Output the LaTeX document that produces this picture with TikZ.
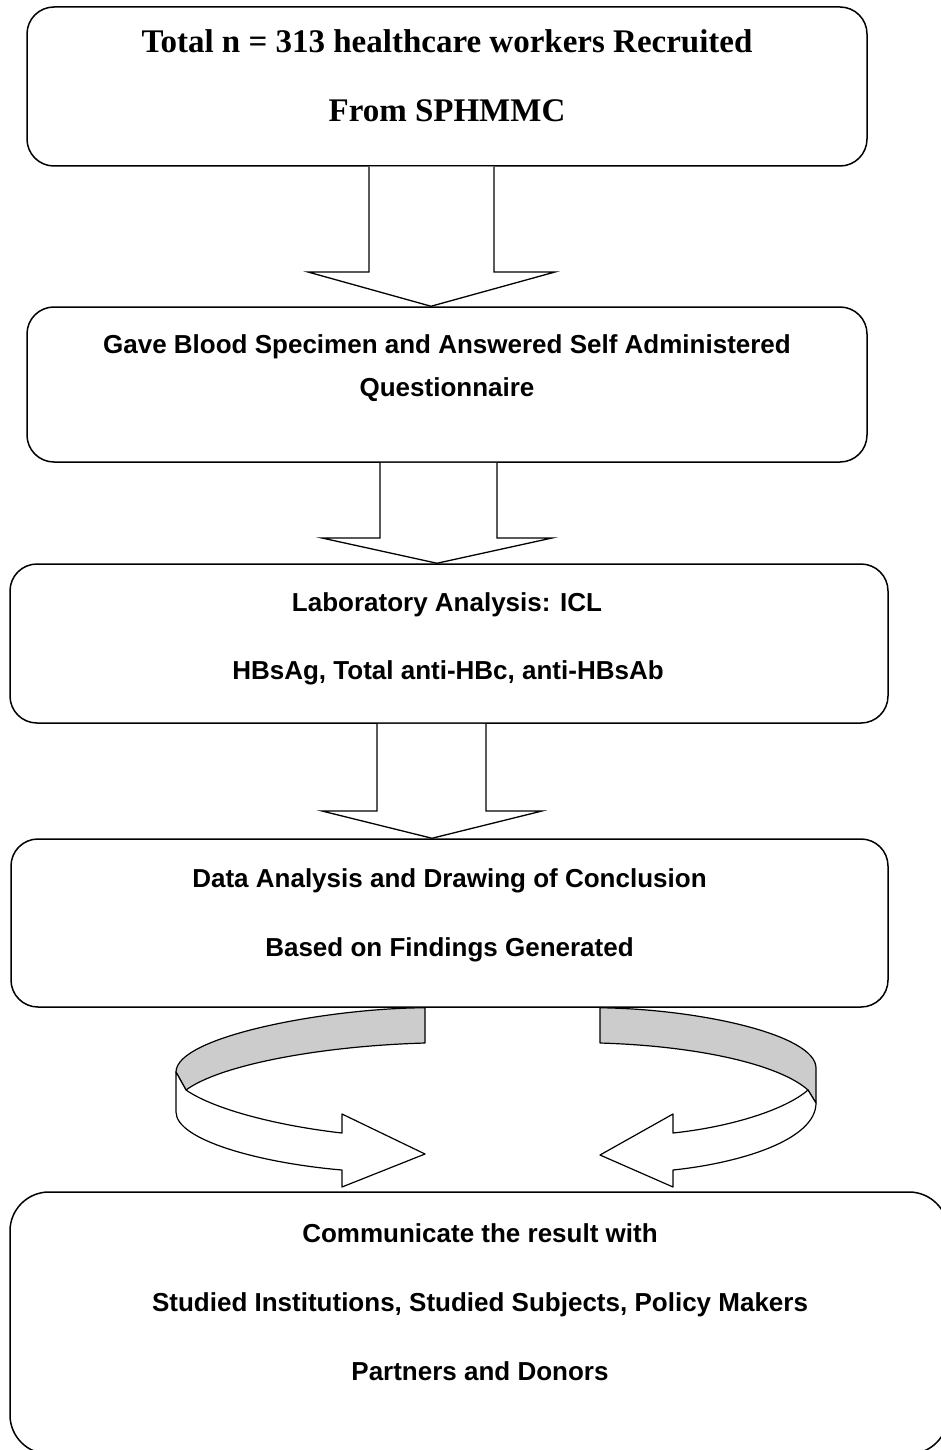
\documentclass[tikz,border=0pt]{standalone}
\usepackage{fontspec}
\setmainfont{Liberation Serif}
\setsansfont{Liberation Sans}
\usetikzlibrary{calc}
\tikzset{
  box/.style={draw, line width=1.5pt, rounded corners=27pt, inner sep=0pt},
  blockarrow/.style={draw, line width=1.3pt, fill=white},
  ribbonback/.style={draw, line width=1.2pt, fill=black!20, line join=round},
  ribbonfront/.style={draw, line width=1.2pt, fill=white, line join=round},
  serifline/.style={anchor=base, font=\rmfamily\bfseries\fontsize{33}{40}\selectfont},
  sansline/.style={anchor=base, font=\sffamily\bfseries\fontsize{26}{32}\selectfont}
}
\begin{document}
\begin{tikzpicture}[x=1pt, y=-1pt]
\useasboundingbox (0,0) rectangle (941,1450);
% the five steps
\node[box, minimum width=840pt, minimum height=159pt] (recruit) at (447,86.5) {};
\node[box, minimum width=840pt, minimum height=155pt] (specimen) at (447,384.5) {};
\node[box, minimum width=878pt, minimum height=159pt] (lab) at (449,643.5) {};
\node[box, minimum width=877pt, minimum height=168pt] (analysis) at (449.5,923) {};
\node[box, rounded corners=39pt, minimum width=938pt, minimum height=262pt] (communicate) at (479,1323) {};
% texts
\node[serifline] (recruitA) at (447,53) {Total n = 313 healthcare workers Recruited};
\node[serifline] (recruitB) at (447,122) {From SPHMMC};
\node[sansline] (specimenA) at (447,353) {Gave Blood Specimen and Answered Self Administered};
\node[sansline] (specimenB) at (447,396) {Questionnaire};
\node[sansline] (labA) at (447,611) {Laboratory Analysis: ICL};
\node[sansline] (labB) at (448,679) {HBsAg, Total anti-HBc, anti-HBsAb};
\node[sansline] (analysisA) at (449.5,887) {Data Analysis and Drawing of Conclusion};
\node[sansline] (analysisB) at (449.5,956) {Based on Findings Generated};
\node[sansline] (communicateA) at (480,1242) {Communicate the result with};
\node[sansline] (communicateB) at (480,1311) {Studied Institutions, Studied Subjects, Policy Makers};
\node[sansline] (communicateC) at (480,1380) {Partners and Donors};
% block arrows between the steps
\draw[blockarrow] (369,0 |- recruit.south) -- (369,272) -- (308,272) -- (431,0 |- specimen.north)
  -- (555,272) -- (494,272) -- (494,0 |- recruit.south);
\draw[blockarrow] (380,0 |- specimen.south) -- (380,538) -- (322,538) -- (437,0 |- lab.north)
  -- (552,538) -- (497,538) -- (497,0 |- specimen.south);
\draw[blockarrow] (377,0 |- lab.south) -- (377,811) -- (322,811) -- (432,0 |- analysis.north)
  -- (542,811) -- (486,811) -- (486,0 |- lab.south);
% curved ribbon arrows to the last step
\draw[ribbonback] (425,0 |- analysis.south) .. controls (330,1008) and (176,1036) .. (176,1072)
  -- (186,1090) .. controls (220,1065) and (320,1046) .. (425,1043) -- cycle;
\draw[ribbonfront] (186,1090) .. controls (215,1110) and (280,1126) .. (342,1133)
  -- (342,1114) -- (425,1154) -- (342,1187) -- (342,1170)
  .. controls (260,1163) and (176,1140) .. (176,1112) -- (176,1072) -- cycle;
\draw[ribbonback] (600,0 |- analysis.south) .. controls (700,1009) and (816,1035) .. (816,1068)
  -- (816,1103) -- (808,1090) .. controls (780,1065) and (700,1046) .. (600,1043) -- cycle;
\draw[ribbonfront] (808,1090) .. controls (785,1110) and (730,1127) .. (673,1133)
  -- (673,1114) -- (600,1155) -- (673,1187) -- (673,1170)
  .. controls (740,1163) and (816,1140) .. (816,1103) -- cycle;
\end{tikzpicture}
\end{document}
